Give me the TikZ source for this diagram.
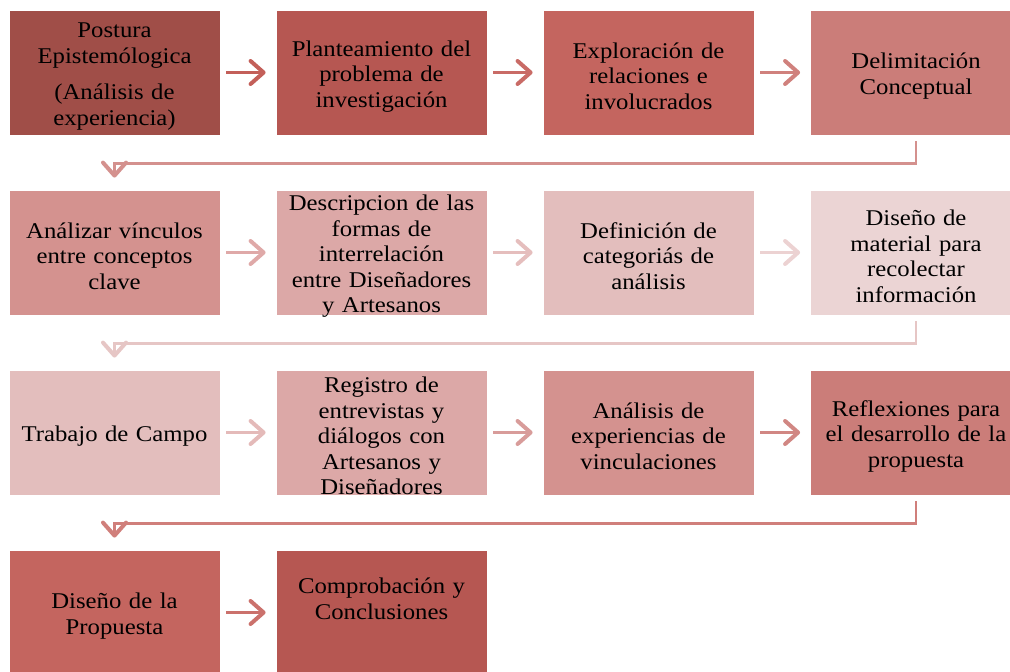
\documentclass[tikz,border=0pt]{standalone}
\usepackage{fontspec}
\setmainfont{Liberation Serif}[FakeStretch=1.1]
\usetikzlibrary{arrows.meta}
\definecolor{cA}{HTML}{A04E48}
\definecolor{cB}{HTML}{B65752}
\definecolor{cC}{HTML}{C4655F}
\definecolor{cD}{HTML}{CB7D79}
\definecolor{cE}{HTML}{D4928F}
\definecolor{cF}{HTML}{DCA8A7}
\definecolor{cG}{HTML}{E3BEBD}
\definecolor{cH}{HTML}{EBD4D4}
\definecolor{aA}{HTML}{C35F59}
\definecolor{aB}{HTML}{C96B66}
\definecolor{aC}{HTML}{D0817D}
\definecolor{kA}{HTML}{D4918E}
\definecolor{aD}{HTML}{DFA9A8}
\definecolor{aE}{HTML}{E5BEBD}
\definecolor{aF}{HTML}{ECD2D2}
\definecolor{kB}{HTML}{E6C6C5}
\definecolor{aG}{HTML}{E4BAB9}
\definecolor{aH}{HTML}{D89C9A}
\definecolor{aI}{HTML}{D18783}
\definecolor{kC}{HTML}{D07F7B}
\definecolor{aJ}{HTML}{CB716C}
\tikzset{
  stepbox/.style={rectangle, draw=white, line width=0.8pt, minimum width=211pt,
    minimum height=125pt, inner sep=0pt, text width=205pt, align=center,
    font=\fontsize{22.5pt}{25.5pt}\selectfont, text=black,
    execute at begin node={\rule{0pt}{23pt}}},
  tallbox/.style={stepbox, inner ysep=-5pt},
  flowarrow/.style={line width=2.2pt,
    -{Straight Barb[length=13pt,width=23pt,line width=4pt,round]}},
  turnarrow/.style={line width=2.2pt,
    -{Straight Barb[length=13pt,width=23pt,line width=4pt,round]}}
}
\begin{document}
\begin{tikzpicture}[x=1pt,y=-1pt]
\useasboundingbox (0,0) rectangle (1010,672);
\clip (0,0) rectangle (1010,672);
% row 1
\node[stepbox, fill=cA] (c11) at (114.5,72.5) {Postura\\Epistemólogica\\[11pt](Análisis de\\experiencia)};
\node[stepbox, fill=cB] (c12) at (381.5,72.5) {Planteamiento del\\problema de\\investigación};
\node[stepbox, fill=cC] (c13) at (648.5,72.5) {Exploración de\\relaciones e\\involucrados};
\node[stepbox, fill=cD] (c14) at (916,72.5) {Delimitación\\Conceptual};
% row 2
\node[stepbox, fill=cE] (c21) at (114.5,252.5) {Análizar vínculos\\entre conceptos\\clave};
\node[tallbox, fill=cF] (c22) at (381.5,252.5) {Descripcion de las\\formas de\\interrelación\\entre Diseñadores\\y Artesanos};
\node[stepbox, fill=cG] (c23) at (648.5,252.5) {Definición de\\categoriás de\\análisis};
\node[stepbox, fill=cH] (c24) at (916,252.5) {Diseño de\\material para\\recolectar\\información};
% row 3
\node[stepbox, fill=cG] (c31) at (114.5,432.5) {Trabajo de Campo};
\node[tallbox, fill=cF] (c32) at (381.5,432.5) {Registro de\\entrevistas y\\diálogos con\\Artesanos y\\Diseñadores};
\node[stepbox, fill=cE] (c33) at (648.5,432.5) {Análisis de\\experiencias de\\vinculaciones};
\node[stepbox, fill=cD] (c34) at (916,432.5) {Reflexiones para\\el desarrollo de la\\propuesta};
% row 4
\node[stepbox, fill=cC] (c41) at (114.5,612.5) {Diseño de la\\Propuesta};
\node[stepbox, fill=cB] (c42) at (381.5,612.5) {Comprobación y\\Conclusiones\\[10pt]~};
% horizontal arrows
\draw[flowarrow, draw=aA] ([xshift=6pt]c11.east) -- ([xshift=-10pt]c12.west);
\draw[flowarrow, draw=aB] ([xshift=6pt]c12.east) -- ([xshift=-10pt]c13.west);
\draw[flowarrow, draw=aC] ([xshift=6pt]c13.east) -- ([xshift=-10pt]c14.west);
\draw[flowarrow, draw=aD] ([xshift=6pt]c21.east) -- ([xshift=-10pt]c22.west);
\draw[flowarrow, draw=aE] ([xshift=6pt]c22.east) -- ([xshift=-10pt]c23.west);
\draw[flowarrow, draw=aF] ([xshift=6pt]c23.east) -- ([xshift=-10pt]c24.west);
\draw[flowarrow, draw=aG] ([xshift=6pt]c31.east) -- ([xshift=-10pt]c32.west);
\draw[flowarrow, draw=aH] ([xshift=6pt]c32.east) -- ([xshift=-10pt]c33.west);
\draw[flowarrow, draw=aI] ([xshift=6pt]c33.east) -- ([xshift=-10pt]c34.west);
\draw[flowarrow, draw=aJ] ([xshift=6pt]c41.east) -- ([xshift=-10pt]c42.west);
% turning connectors
\draw[turnarrow, draw=kA] ([yshift=-6pt]c14.south) -- ++(0,22) -| ([yshift=12pt]c21.north);
\draw[turnarrow, draw=kB] ([yshift=-6pt]c24.south) -- ++(0,22) -| ([yshift=12pt]c31.north);
\draw[turnarrow, draw=kC] ([yshift=-6pt]c34.south) -- ++(0,22) -| ([yshift=12pt]c41.north);
\end{tikzpicture}
\end{document}
